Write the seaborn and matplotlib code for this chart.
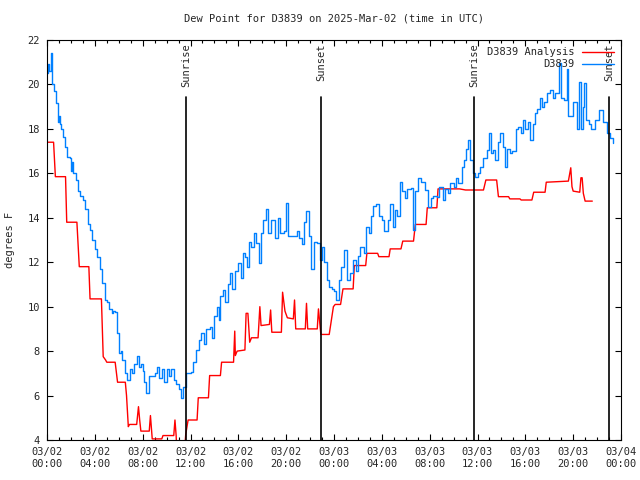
import pandas as pd
import matplotlib
matplotlib.use('Agg')
import matplotlib.pyplot as plt
import matplotlib.dates as mdates
import seaborn as sns

start = pd.Timestamp('2025-03-02 00:00')

# observed dew point (hours since 03/02 00:00 UTC, degrees F)
obs_hours = [0.0, 0.1, 0.2, 0.3, 0.4, 0.55, 0.73, 0.9, 1.0, 1.1, 1.2, 1.37, 1.5, 1.7, 1.9,
             2.0, 2.1, 2.2, 2.4, 2.6, 2.8, 3.0, 3.2, 3.4, 3.6, 3.8, 4.0, 4.2, 4.4, 4.6,
             4.85, 5.0, 5.2, 5.4, 5.5, 5.7, 5.85, 6.0, 6.2, 6.3, 6.5, 6.7, 6.9, 7.1, 7.3,
             7.5, 7.7, 7.9, 8.0, 8.15, 8.3, 8.5, 8.7, 9.0, 9.2, 9.4, 9.6, 9.8, 10.0, 10.2,
             10.4, 10.6, 10.8, 11.0, 11.2, 11.4, 11.6, 12.0, 12.2, 12.5, 12.7, 12.9, 13.1, 13.3, 13.6,
             13.8, 14.0, 14.2, 14.35, 14.5, 14.75, 14.9, 15.1, 15.3, 15.5, 15.7, 16.0, 16.2, 16.35, 16.55,
             16.75, 16.9, 17.1, 17.3, 17.5, 17.7, 17.9, 18.1, 18.3, 18.5, 18.7, 18.9, 19.1, 19.3, 19.5,
             19.7, 19.85, 20.0, 20.15, 20.4, 20.7, 20.9, 21.1, 21.3, 21.5, 21.7, 21.9, 22.1, 22.3, 22.55,
             22.8, 22.97, 23.2, 23.4, 23.6, 23.8, 24.0, 24.2, 24.4, 24.6, 24.8, 25.05, 25.3, 25.6, 25.8,
             26.0, 26.2, 26.5, 26.7, 26.9, 27.1, 27.3, 27.5, 27.8, 28.0, 28.2, 28.5, 28.7, 28.9, 29.1,
             29.3, 29.5, 29.7, 29.9, 30.1, 30.4, 30.6, 30.8, 31.05, 31.3, 31.6, 31.9, 32.1, 32.3, 32.6,
             32.8, 33.1, 33.3, 33.5, 33.7, 34.0, 34.2, 34.4, 34.7, 34.9, 35.05, 35.2, 35.4, 35.65, 35.8,
             36.0, 36.2, 36.5, 36.8, 37.0, 37.15, 37.3, 37.5, 37.7, 37.9, 38.1, 38.3, 38.5, 38.7, 38.9,
             39.2, 39.4, 39.6, 39.8, 40.0, 40.2, 40.4, 40.6, 40.8, 41.0, 41.2, 41.4, 41.6, 41.85, 42.1,
             42.3, 42.5, 42.8, 43.0, 43.2, 43.5, 43.6, 43.8, 44.0, 44.15, 44.3, 44.5, 44.65, 44.8, 44.9,
             45.1, 45.3, 45.5, 45.8, 46.2, 46.5, 46.8, 47.05, 47.3]
obs_vals = [20.5, 20.9, 20.6, 21.4, 20.0, 19.7, 19.15, 18.3, 18.6, 18.2, 18.0, 17.65, 17.2, 16.75, 16.7,
            16.1, 16.5, 16.0, 15.7, 15.2, 15.0, 14.8, 14.4, 13.7, 13.45, 13.0, 12.6, 12.25, 11.7, 11.05,
            10.3, 10.2, 9.9, 9.7, 9.8, 9.75, 8.8, 7.9, 8.0, 7.6, 7.0, 6.7, 7.2, 7.0, 7.4,
            7.8, 7.3, 7.4, 7.1, 6.6, 6.1, 6.9, 6.9, 7.0, 7.3, 6.8, 7.2, 6.6, 7.2, 6.9,
            7.2, 6.7, 6.5, 6.3, 5.9, 6.4, 7.0, 7.05, 7.5, 8.05, 8.5, 8.8, 8.3, 9.0, 9.1,
            8.6, 9.6, 10.0, 9.4, 10.5, 10.75, 10.2, 11.0, 11.5, 10.8, 11.6, 11.95, 11.3, 12.4, 12.25,
            11.8, 12.9, 12.7, 13.3, 12.85, 11.95, 13.3, 13.9, 14.4, 13.3, 13.9, 13.9, 13.1, 14.0, 13.3,
            13.3, 13.4, 14.65, 13.2, 13.2, 13.2, 13.4, 13.1, 12.8, 13.8, 14.3, 13.2, 11.7, 12.9, 12.85,
            12.1, 12.7, 12.0, 11.2, 10.9, 10.8, 10.7, 10.3, 11.2, 11.8, 12.55, 11.2, 11.5, 12.1, 11.6,
            12.3, 12.7, 12.4, 13.6, 13.3, 14.1, 14.55, 14.6, 14.1, 13.9, 13.4, 13.9, 14.6, 13.6, 14.35,
            14.1, 15.6, 15.2, 14.9, 15.3, 15.35, 13.45, 15.2, 15.8, 15.6, 15.25, 14.5, 14.9, 15.0, 14.95,
            15.4, 14.8, 15.3, 15.1, 15.55, 15.4, 15.8, 15.55, 16.3, 16.6, 17.1, 17.5, 16.6, 16.0, 15.85,
            16.0, 16.3, 16.7, 17.05, 17.8, 16.9, 17.05, 16.6, 17.4, 17.8, 17.2, 16.3, 17.1, 16.9, 17.0,
            18.0, 18.1, 17.8, 18.4, 18.0, 18.3, 17.5, 18.2, 18.7, 18.9, 19.4, 19.0, 19.2, 19.6, 19.75,
            19.4, 19.6, 20.95, 19.4, 19.3, 20.7, 18.6, 18.6, 19.2, 19.2, 18.0, 20.1, 18.0, 19.0, 20.05,
            18.4, 18.2, 18.0, 18.4, 18.85, 18.3, 17.8, 17.6, 17.35]

# analysis dew point
ana_hours = [0.0, 0.55, 0.7, 1.55, 1.65, 2.5, 2.7, 3.5, 3.6, 4.55, 4.7, 4.9, 5.0, 5.7, 5.9,
             6.55, 6.65, 6.8, 6.9, 7.5, 7.65, 7.75, 7.85, 8.55, 8.65, 8.8, 9.6, 9.7, 10.6, 10.7,
             10.8, 10.85, 11.5, 11.6, 11.8, 12.55, 12.65, 13.5, 13.6, 14.5, 14.6, 15.6, 15.7, 15.75, 15.9,
             16.55, 16.65, 16.8, 16.95, 17.1, 17.65, 17.7, 17.8, 17.9, 18.6, 18.7, 18.8, 19.6, 19.7, 19.9,
             20.1, 20.6, 20.7, 20.8, 21.6, 21.7, 21.8, 22.6, 22.7, 22.9, 23.6, 23.95, 24.1, 24.55, 24.75,
             25.6, 25.7, 26.65, 26.75, 27.65, 27.75, 28.6, 28.7, 29.6, 29.75, 30.65, 30.8, 31.7, 31.8, 32.6,
             32.7, 34.5, 35.0, 36.5, 36.7, 37.6, 37.75, 38.6, 38.7, 39.55, 39.65, 40.55, 40.7, 41.65, 41.75,
             43.6, 43.7, 43.8, 43.9, 44.0, 44.55, 44.65, 44.75, 44.85, 45.0, 45.6]
ana_vals = [17.4, 17.4, 15.85, 15.85, 13.8, 13.8, 11.8, 11.8, 10.35, 10.35, 7.75, 7.6, 7.5, 7.5, 6.6,
            6.6, 6.0, 4.6, 4.7, 4.7, 5.5, 4.9, 4.4, 4.4, 5.1, 4.05, 4.05, 4.2, 4.2, 4.9,
            4.2, 3.5, 3.5, 4.25, 4.9, 4.9, 5.9, 5.9, 6.9, 6.9, 7.5, 7.5, 8.9, 7.8, 8.0,
            8.05, 9.7, 9.7, 8.4, 8.6, 8.6, 9.05, 10.0, 9.15, 9.2, 9.85, 8.85, 8.85, 10.65, 9.8,
            9.5, 9.45, 10.3, 9.0, 9.0, 10.15, 9.0, 9.0, 9.9, 8.75, 8.75, 10.0, 10.1, 10.1, 10.8,
            10.8, 11.85, 11.85, 12.4, 12.4, 12.25, 12.25, 12.6, 12.6, 12.95, 12.95, 13.7, 13.7, 14.45, 14.45,
            15.3, 15.3, 15.25, 15.25, 15.7, 15.7, 14.95, 14.95, 14.85, 14.85, 14.8, 14.8, 15.15, 15.15, 15.6,
            15.65, 15.95, 16.25, 15.4, 15.2, 15.15, 15.8, 15.8, 15.1, 14.75, 14.75]

event_names = ['Sunrise', 'Sunset', 'Sunrise', 'Sunset']
event_hours = [11.62, 22.91, 35.71, 47.0]

sns.set_style('ticks')
plt.rcParams['font.family'] = ['DejaVu Sans Mono']
plt.rcParams['font.size'] = 7.5

obs = pd.DataFrame({'time': start + pd.to_timedelta(obs_hours, unit='h'), 'dewpt': obs_vals})
ana = pd.DataFrame({'time': start + pd.to_timedelta(ana_hours, unit='h'), 'dewpt': ana_vals})

fig, ax = plt.subplots(figsize=(6.4, 4.8), dpi=100)
fig.subplots_adjust(left=47/640, right=621/640, bottom=40/480, top=440/480)

sns.lineplot(data=ana, x='time', y='dewpt', color='#ff0000', lw=1.0, label='D3839 Analysis', ax=ax)
sns.lineplot(data=obs, x='time', y='dewpt', color='#0080ff', lw=1.0, drawstyle='steps-post',
             label='D3839', ax=ax)

# sunrise / sunset markers
for name, h in zip(event_names, event_hours):
    t = start + pd.Timedelta(hours=h)
    ax.axvline(t, ymin=0, ymax=(19.43 - 4) / 18, color='black', lw=1.2)
    ax.text(t, 21.85, name, rotation=90, ha='center', va='top', fontsize=7.5)

ax.set_xlim(start, start + pd.Timedelta(hours=48))
ax.set_ylim(4, 22)
ax.set_yticks(range(4, 23, 2))
ax.xaxis.set_major_locator(mdates.HourLocator(byhour=[0, 4, 8, 12, 16, 20]))
ax.xaxis.set_minor_locator(mdates.HourLocator())
ax.xaxis.set_major_formatter(mdates.DateFormatter('%m/%d\n%H:%M'))

ax.tick_params(which='both', direction='in', top=True, right=True, width=0.8, color='black', labelsize=7.5)
ax.tick_params(which='major', length=4.5, pad=5)
ax.tick_params(which='minor', length=2.5)
for s in ax.spines.values():
    s.set_color('black')
    s.set_linewidth(0.8)

ax.set_xlabel('')
ax.set_ylabel('degrees F', fontsize=7.5, labelpad=9)
ax.set_title('Dew Point for D3839 on 2025-Mar-02 (time in UTC)', fontsize=7.5, pad=13)

ax.legend(loc='upper right', frameon=False, markerfirst=False, handlelength=3.0,
          borderaxespad=0.3, labelspacing=0.2, handletextpad=0.8, fontsize=7.5)

plt.savefig('out.png', dpi=100)
